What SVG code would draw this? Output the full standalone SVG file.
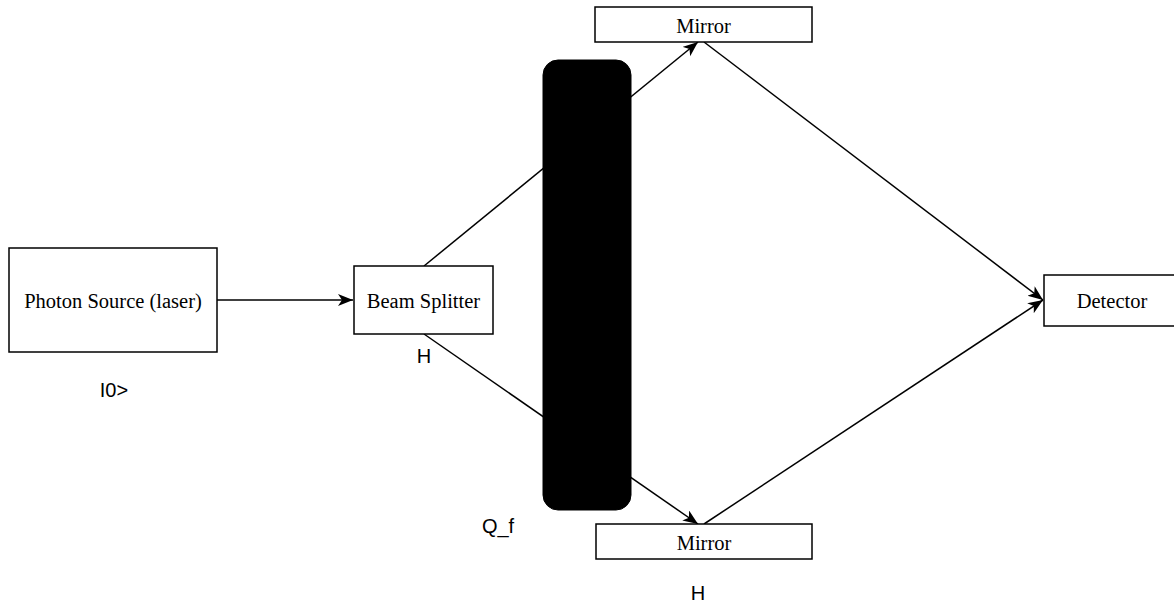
<svg xmlns="http://www.w3.org/2000/svg" width="1174" height="605" viewBox="0 0 1174 605">
  <style>
    .box { fill: #ffffff; stroke: #000000; stroke-width: 1.5; }
    .lbl { font-family: "Liberation Serif", "Times New Roman", serif; font-size: 20.5px; fill: #000000; text-anchor: middle; }
    .note { font-family: "Liberation Sans", Arial, Helvetica, sans-serif; font-size: 20px; fill: #000000; text-anchor: middle; }
    .edge { fill: none; stroke: #000000; stroke-width: 1.5; }
  </style>
  <defs>
    <marker id="arrow" markerUnits="userSpaceOnUse" markerWidth="18" markerHeight="14" refX="15" refY="6" orient="auto">
      <path d="M0,0 L15,6 L0,12 L4,6 Z" fill="#000000"/>
    </marker>
  </defs>

  <g id="connectors">
    <line class="edge" x1="217" y1="300" x2="353" y2="300" marker-end="url(#arrow)"/>
    <line class="edge" x1="424" y1="266" x2="698" y2="42" marker-end="url(#arrow)"/>
    <line class="edge" x1="424" y1="334" x2="698" y2="524" marker-end="url(#arrow)"/>
    <line class="edge" x1="704" y1="42" x2="1043" y2="300" marker-end="url(#arrow)"/>
    <line class="edge" x1="704" y1="524" x2="1043" y2="300" marker-end="url(#arrow)"/>
  </g>

  <g id="photon-source">
    <rect class="box" x="9" y="248" width="208" height="104"/>
    <text class="lbl" x="113" y="308">Photon Source (laser)</text>
  </g>

  <g id="beam-splitter">
    <rect class="box" x="354" y="266" width="139" height="68"/>
    <text class="lbl" x="423.5" y="308">Beam Splitter</text>
  </g>

  <g id="mirror-top">
    <rect class="box" x="595" y="7" width="217" height="35"/>
    <text class="lbl" x="703.5" y="33">Mirror</text>
  </g>

  <g id="mirror-bottom">
    <rect class="box" x="596" y="524" width="216" height="35"/>
    <text class="lbl" x="704" y="550">Mirror</text>
  </g>

  <g id="detector">
    <rect class="box" x="1044" y="275" width="136" height="51"/>
    <text class="lbl" x="1112" y="308">Detector</text>
  </g>

  <g id="phase-shifter">
    <rect x="543" y="60" width="88" height="450" rx="15" ry="15" fill="#000000" stroke="#000000" stroke-width="1"/>
  </g>

  <g id="labels">
    <text class="note" x="114" y="397">I0&gt;</text>
    <text class="note" x="424" y="363">H</text>
    <text class="note" x="498" y="533">Q_f</text>
    <text class="note" x="698" y="600">H</text>
  </g>
</svg>
